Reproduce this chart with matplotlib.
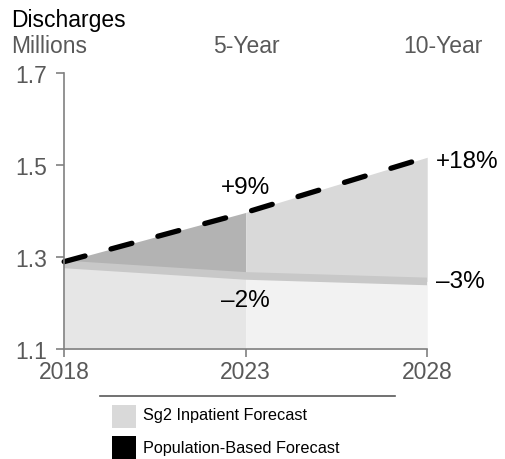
import matplotlib.pyplot as plt
import matplotlib.patches as mpatches
from matplotlib.lines import Line2D

plt.rcParams['font.family'] = ['Liberation Sans', 'DejaVu Sans']

years = [2018, 2023, 2028]
population = [1.290, 1.397, 1.517]
sg2 = [1.284, 1.259, 1.247]
pop_labels = ['+9%', '+18%']
sg2_labels = ['\u20132%', '\u20133%']
yticks = [1.1, 1.3, 1.5, 1.7]

grey = '#808080'
fig = plt.figure(figsize=(5.05, 4.6), dpi=100)
ax = fig.add_axes([0.127, 0.239, 0.719, 0.600])

# lower fill (below Sg2 forecast)
ax.fill_between(years[:2], 1.1, sg2[:2], color='#e6e6e6', lw=0)
ax.fill_between(years[1:], 1.1, sg2[1:], color='#f2f2f2', lw=0)
# gap between Sg2 and population forecast
ax.fill_between(years[:2], sg2[:2], population[:2], color='#b3b3b3', lw=0)
ax.fill_between(years[1:], sg2[1:], population[1:], color='#d9d9d9', lw=0)
# Sg2 band
ax.plot(years, sg2, color='#c8c8c8', lw=5.5, solid_capstyle='butt')
# population line
ax.plot(years, population, color='black', lw=3.8, dashes=(4.1, 5.1),
        dash_capstyle='round', clip_on=False)

ax.text(years[1], population[1] + 0.055, pop_labels[0], ha='center', va='center', fontsize=17.5)
ax.text(years[2] + 0.25, population[2] - 0.008, pop_labels[1], ha='left', va='center', fontsize=17.5)
ax.text(years[1], sg2[1] - 0.052, sg2_labels[0], ha='center', va='center', fontsize=17.5)
ax.text(years[2] + 0.25, sg2[2] + 0.002, sg2_labels[1], ha='left', va='center', fontsize=17.5)

ax.set_xlim(2018, 2028)
ax.set_ylim(1.1, 1.7)
ax.set_xticks(years)
ax.set_yticks(yticks)
ax.set_yticklabels([f'{v:.1f}' for v in yticks])
for s in ['top', 'right']:
    ax.spines[s].set_visible(False)
for s in ['left', 'bottom']:
    ax.spines[s].set_color(grey)
    ax.spines[s].set_linewidth(1.2)
ax.tick_params(axis='both', colors=grey, labelsize=16.5, length=6, width=1.2,
               labelcolor='#595959')
ax.tick_params(axis='y', pad=6)
ax.tick_params(axis='x', pad=2)

fig.text(0.022, 0.941, 'Discharges', fontsize=16.5, color='black', va='baseline')
fig.text(0.022, 0.885, 'Millions', fontsize=16.5, color='#595959', va='baseline')
fig.text(0.488, 0.885, '5-Year', fontsize=16.5, color='#595959', va='baseline', ha='center')
fig.text(0.878, 0.885, '10-Year', fontsize=16.5, color='#595959', va='baseline', ha='center')

# legend
fig.add_artist(Line2D([0.198, 0.783], [0.137, 0.137], color='#595959', lw=1.2))
fig.add_artist(mpatches.Rectangle((0.222, 0.067), 0.0475, 0.05, color='#d9d9d9', lw=0))
fig.add_artist(mpatches.Rectangle((0.222, 0.0), 0.0475, 0.05, color='black', lw=0))
fig.text(0.283, 0.0957, 'Sg2 Inpatient Forecast', fontsize=11.7, va='center')
fig.text(0.283, 0.024, 'Population-Based Forecast', fontsize=11.7, va='center')

fig.savefig('out.png', dpi=100)
